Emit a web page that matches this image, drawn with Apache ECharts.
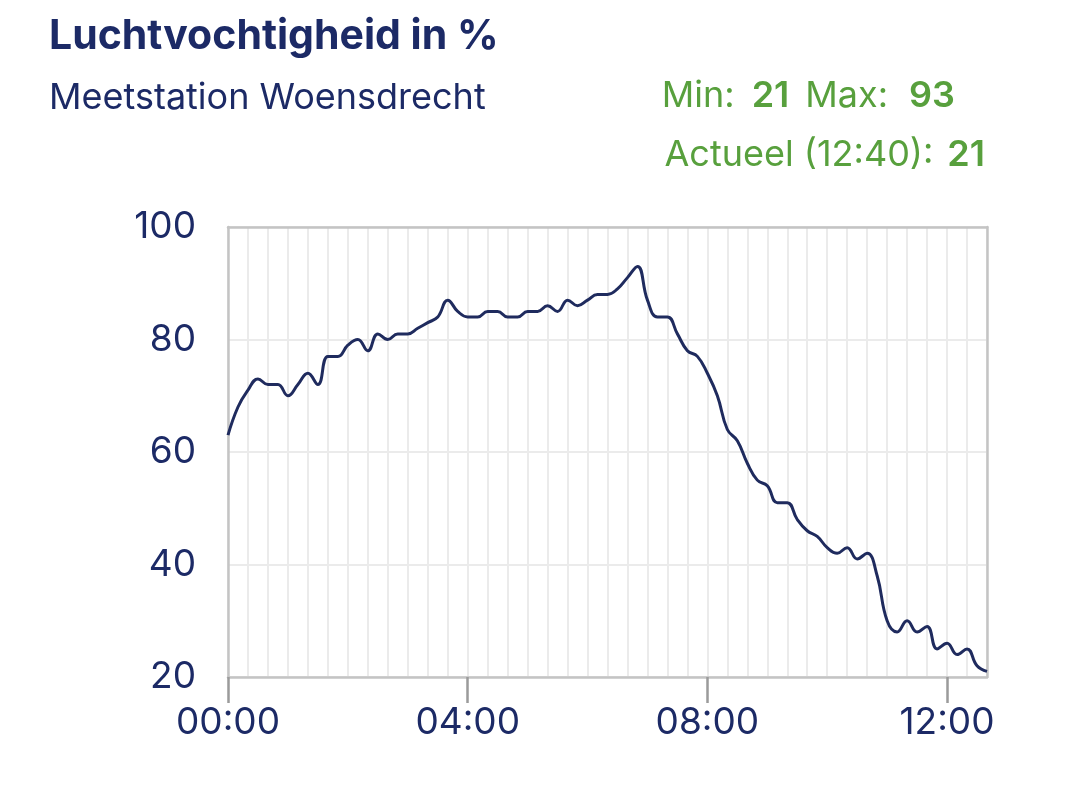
<!DOCTYPE html>
<html>
<head>
<meta charset="utf-8">
<script src="https://cdn.jsdelivr.net/npm/echarts@6/dist/echarts.min.js"></script>
<style>
  html, body { margin: 0; padding: 0; background: #ffffff; }
  #chart { width: 1080px; height: 788px; }
</style>
</head>
<body>
<div id="chart"></div>
<script>
// ---- data (humidity %, every 10 minutes from 00:00 to 12:40) ----
const stepMinutes = 10;
const humidity = [
  63, 68, 71, 73, 72, 72, 70, 72, 74, 72,
  77, 77, 79, 80, 78, 81, 80, 81, 81, 82,
  83, 84, 87, 85, 84, 84, 85, 85, 84, 84,
  85, 85, 86, 85, 87, 86, 87, 88, 88, 89,
  91, 93, 87, 84, 84, 81, 78, 77, 74, 70,
  64, 62, 58, 55, 54, 51, 51, 48, 46, 45,
  43, 42, 43, 41, 42, 38, 30, 28, 30, 28,
  29, 25, 26, 24, 25, 22, 21
];
const xTickValues = [0, 240, 480, 720];
const xTickLabels = ['00:00', '04:00', '08:00', '12:00'];
const titleText = 'Luchtvochtigheid in %';
const subtitleText = 'Meetstation Woensdrecht';
const currentTimeLabel = '12:40';

const navy = '#1c2a66';
const lineColor = '#1f2b5e';
const green = '#58a03d';
const gridLine = '#ebebeb';
const borderColor = '#c4c4c4';
const font = 'Inter, "Noto Sans", sans-serif';

const seriesData = humidity.map((v, i) => [i * stepMinutes, v]);
const xMax = (humidity.length - 1) * stepMinutes;
const minVal = Math.min(...humidity);
const maxVal = Math.max(...humidity);
const lastVal = humidity[humidity.length - 1];

const chart = echarts.init(document.getElementById('chart'), null, { renderer: 'canvas' });

const borderAxisX = (pos) => ({
  type: 'value', position: pos, min: 0, max: xMax, z: 2,
  axisLine: { show: true, onZero: false, lineStyle: { color: borderColor, width: 2.5 } },
  axisTick: { show: false }, axisLabel: { show: false }, splitLine: { show: false }
});
const borderAxisY = (pos) => ({
  type: 'value', position: pos, min: 20, max: 100, z: 2,
  axisLine: { show: true, onZero: false, lineStyle: { color: borderColor, width: 2.5 } },
  axisTick: { show: false }, axisLabel: { show: false }, splitLine: { show: false }
});

const statRich = {
  l: { fill: green, font: '36px ' + font },
  b: { fill: green, font: '600 36px ' + font },
  g1: { width: 17 },
  g2: { width: 16 },
  g3: { width: 21 },
  g4: { width: 14 }
};

const option = {
  backgroundColor: '#ffffff',
  animation: false,
  grid: { left: 228, right: 93, top: 227, bottom: 111 },
  graphic: [
    { type: 'text', x: 49, y: 37, style: { text: titleText, fill: navy, font: 'bold 41px ' + font, align: 'left', verticalAlign: 'middle' } },
    { type: 'text', x: 49, y: 98, style: { text: subtitleText, fill: navy, font: '36px ' + font, align: 'left', verticalAlign: 'middle' } },
    { type: 'text', x: 955, y: 96, style: {
        text: '{l|Min:}{g1|}{b|' + minVal + '}{g2|}{l|Max:}{g3|}{b|' + maxVal + '}',
        align: 'right', verticalAlign: 'middle',
        rich: statRich
    } },
    { type: 'text', x: 985, y: 155, style: {
        text: '{l|Actueel (' + currentTimeLabel + '):}{g4|}{b|' + lastVal + '}',
        align: 'right', verticalAlign: 'middle',
        rich: statRich
    } }
  ],
  xAxis: [
    {
      type: 'value', min: 0, max: xMax, interval: 20, z: 0,
      axisLine: { show: false }, axisTick: { show: false }, axisLabel: { show: false },
      splitLine: { show: true, lineStyle: { color: gridLine, width: 2 } }
    },
    {
      type: 'value', position: 'bottom', min: 0, max: xMax, z: 3,
      axisLine: { show: true, onZero: false, lineStyle: { color: borderColor, width: 2.5 } },
      axisTick: { show: true, customValues: xTickValues, length: 26, lineStyle: { color: '#9b9b9b', width: 2.5 } },
      axisLabel: {
        show: true, customValues: xTickValues, margin: 27,
        formatter: (v) => xTickLabels[xTickValues.indexOf(v)] || '',
        color: navy, fontSize: 37, fontFamily: font
      },
      splitLine: { show: false }
    },
    borderAxisX('top')
  ],
  yAxis: [
    {
      type: 'value', min: 20, max: 100, interval: 20, z: 0,
      axisLine: { show: false }, axisTick: { show: false },
      axisLabel: { show: true, margin: 32, color: navy, fontSize: 37, fontFamily: font },
      splitLine: { show: true, lineStyle: { color: gridLine, width: 2 } }
    },
    borderAxisY('left'),
    borderAxisY('right')
  ],
  series: [
    {
      type: 'line',
      xAxisIndex: 0, yAxisIndex: 0,
      data: seriesData,
      smooth: 0.45,
      showSymbol: false,
      symbol: 'none',
      lineStyle: { color: lineColor, width: 3 },
      z: 5
    }
  ]
};
chart.setOption(option);
</script>
</body>
</html>
